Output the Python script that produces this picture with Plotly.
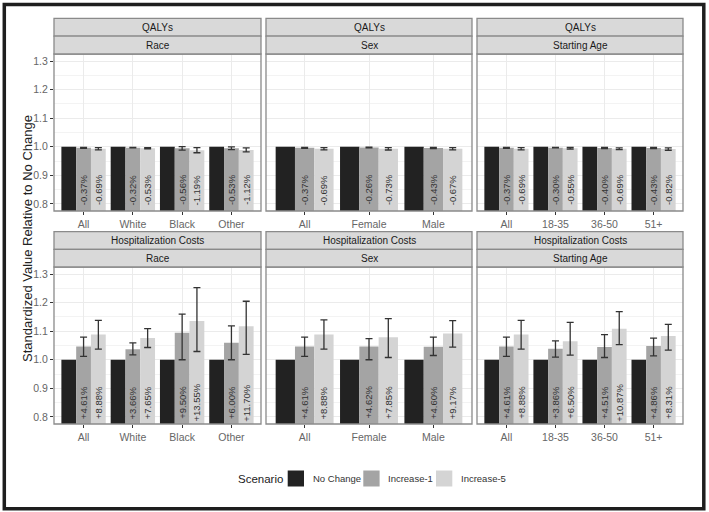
import plotly.graph_objects as go

# ---------------- data ----------------
race_cats = ["All", "White", "Black", "Other"]
sex_cats = ["All", "Female", "Male"]
age_cats = ["All", "18-35", "36-50", "51+"]

scenarios = ["No Change", "Increase-1", "Increase-5"]

# QALYs: percent change vs No Change
qaly_race_inc1 = [-0.37, -0.32, -0.56, -0.53]
qaly_race_inc5 = [-0.69, -0.53, -1.19, -1.12]
qaly_sex_inc1 = [-0.37, -0.26, -0.43]
qaly_sex_inc5 = [-0.69, -0.73, -0.67]
qaly_age_inc1 = [-0.37, -0.30, -0.40, -0.43]
qaly_age_inc5 = [-0.69, -0.55, -0.69, -0.82]

# QALYs error bounds (standardized)
qaly_race_inc1_lo = [0.9948, 0.9958, 0.9885, 0.9897]
qaly_race_inc1_hi = [0.9978, 0.9978, 1.0003, 0.9997]
qaly_race_inc5_lo = [0.9891, 0.9927, 0.9791, 0.9818]
qaly_race_inc5_hi = [0.9971, 0.9967, 0.9971, 0.9958]
qaly_sex_inc1_lo = [0.9948, 0.9964, 0.9937]
qaly_sex_inc1_hi = [0.9978, 0.9984, 0.9977]
qaly_sex_inc5_lo = [0.9891, 0.9887, 0.9893]
qaly_sex_inc5_hi = [0.9971, 0.9967, 0.9973]
qaly_age_inc1_lo = [0.9948, 0.9960, 0.9940, 0.9937]
qaly_age_inc1_hi = [0.9978, 0.9980, 0.9980, 0.9977]
qaly_age_inc5_lo = [0.9891, 0.9915, 0.9901, 0.9878]
qaly_age_inc5_hi = [0.9971, 0.9975, 0.9961, 0.9958]

# Hospitalization costs: percent change vs No Change
cost_race_inc1 = [4.61, 3.66, 9.50, 6.00]
cost_race_inc5 = [8.88, 7.65, 13.55, 11.70]
cost_sex_inc1 = [4.61, 4.62, 4.60]
cost_sex_inc5 = [8.88, 7.85, 9.17]
cost_age_inc1 = [4.61, 3.86, 4.51, 4.86]
cost_age_inc5 = [8.88, 6.50, 10.87, 8.31]

cost_race_inc1_lo = [1.012, 1.017, 1.000, 1.000]
cost_race_inc1_hi = [1.079, 1.059, 1.160, 1.119]
cost_race_inc5_lo = [1.037, 1.043, 1.029, 1.019]
cost_race_inc5_hi = [1.138, 1.109, 1.253, 1.205]
cost_sex_inc1_lo = [1.012, 1.000, 1.015]
cost_sex_inc1_hi = [1.079, 1.074, 1.079]
cost_sex_inc5_lo = [1.037, 1.008, 1.044]
cost_sex_inc5_hi = [1.140, 1.144, 1.137]
cost_age_inc1_lo = [1.012, 1.009, 1.008, 1.014]
cost_age_inc1_hi = [1.079, 1.066, 1.088, 1.076]
cost_age_inc5_lo = [1.037, 1.016, 1.053, 1.034]
cost_age_inc5_hi = [1.138, 1.131, 1.169, 1.124]

y_ticks = [0.8, 0.9, 1.0, 1.1, 1.2, 1.3]
y_minor = [0.85, 0.95, 1.05, 1.15, 1.25]

# ---------------- layout geometry (px) ----------------
W, H = 709, 512
col_x = [(54, 261), (266, 472), (477, 683)]
row_plot_y = [(54, 211), (267, 424)]
row_strip_y = [((18.3, 36.1), (36.1, 54)), ((231.7, 249.3), (249.3, 267))]

colors = {"No Change": "#222222", "Increase-1": "#a4a4a4", "Increase-5": "#d4d4d4"}
grid_c = "#ebebeb"
border_c = "#8a8a8a"
strip_fill = "#d9d9d9"
font_fam = "Liberation Sans, Arial, sans-serif"


def px_x(v):
    return v / W


def px_y(v):
    return 1 - v / H


panels = [
    (0, 0, "QALYs", "Race", race_cats, qaly_race_inc1, qaly_race_inc5,
     qaly_race_inc1_lo, qaly_race_inc1_hi, qaly_race_inc5_lo, qaly_race_inc5_hi),
    (0, 1, "QALYs", "Sex", sex_cats, qaly_sex_inc1, qaly_sex_inc5,
     qaly_sex_inc1_lo, qaly_sex_inc1_hi, qaly_sex_inc5_lo, qaly_sex_inc5_hi),
    (0, 2, "QALYs", "Starting Age", age_cats, qaly_age_inc1, qaly_age_inc5,
     qaly_age_inc1_lo, qaly_age_inc1_hi, qaly_age_inc5_lo, qaly_age_inc5_hi),
    (1, 0, "Hospitalization Costs", "Race", race_cats, cost_race_inc1, cost_race_inc5,
     cost_race_inc1_lo, cost_race_inc1_hi, cost_race_inc5_lo, cost_race_inc5_hi),
    (1, 1, "Hospitalization Costs", "Sex", sex_cats, cost_sex_inc1, cost_sex_inc5,
     cost_sex_inc1_lo, cost_sex_inc1_hi, cost_sex_inc5_lo, cost_sex_inc5_hi),
    (1, 2, "Hospitalization Costs", "Starting Age", age_cats, cost_age_inc1, cost_age_inc5,
     cost_age_inc1_lo, cost_age_inc1_hi, cost_age_inc5_lo, cost_age_inc5_hi),
]

fig = go.Figure()
shapes = []
annotations = []
layout_axes = {}

for k, (r, c, outcome, facet, cats, p1, p5, l1, h1, l5, h5) in enumerate(panels):
    idx = k + 1
    xa = "x" if idx == 1 else f"x{idx}"
    ya = "y" if idx == 1 else f"y{idx}"
    xs = list(range(len(cats)))
    v0 = [1.0] * len(cats)
    v1 = [1 + p / 100 for p in p1]
    v5 = [1 + p / 100 for p in p5]
    series = [
        ("No Change", v0, None, None),
        ("Increase-1", v1, l1, h1),
        ("Increase-5", v5, l5, h5),
    ]
    for name, vals, lo, hi in series:
        err = None
        if lo is not None:
            err = dict(type="data", symmetric=False,
                       array=[h - v for h, v in zip(hi, vals)],
                       arrayminus=[v - l for v, l in zip(vals, lo)],
                       color="#333333", thickness=1.3, width=3.5)
        fig.add_trace(go.Bar(
            x=xs, y=vals, name=name, marker=dict(color=colors[name], line=dict(width=0)),
            error_y=err, xaxis=xa, yaxis=ya, legendgroup=name,
            showlegend=False, hoverinfo="skip",
        ))
    for i in xs:
        for off, pct in ((0.0, p1[i]), (0.3, p5[i])):
            txt = (f"+{pct:.2f}%" if pct > 0 else f"{pct:.2f}%")
            annotations.append(dict(
                x=i + off, y=0.85, xref=xa, yref=ya, text=txt, showarrow=False,
                textangle=-90, font=dict(size=9.5, color="#333333", family=font_fam),
                xanchor="center", yanchor="middle",
            ))
    x0, x1 = col_x[c]
    y0, y1 = row_plot_y[r]
    layout_axes["xaxis" if idx == 1 else f"xaxis{idx}"] = dict(
        domain=[px_x(x0), px_x(x1)], anchor=ya, range=[-0.6, len(cats) - 0.4],
        tickmode="array", tickvals=xs, ticktext=cats, showgrid=True, gridcolor=grid_c,
        gridwidth=1.2, zeroline=False, ticks="outside", ticklen=3, tickcolor="#333333",
        tickwidth=1, showline=False,
        tickfont=dict(size=10.5, color="#666666", family=font_fam), fixedrange=True,
    )
    layout_axes["yaxis" if idx == 1 else f"yaxis{idx}"] = dict(
        domain=[px_y(y1), px_y(y0)], anchor=xa, range=[0.775, 1.325],
        tickmode="array", tickvals=y_ticks, ticktext=[f"{t:.1f}" for t in y_ticks],
        showticklabels=(c == 0), ticks="outside" if c == 0 else "", ticklen=3,
        tickcolor="#333333", showgrid=True, gridcolor=grid_c, gridwidth=1.2,
        zeroline=False, showline=False,
        minor=dict(tickvals=y_minor, showgrid=True, gridcolor="#f3f3f3", gridwidth=0.6),
        tickfont=dict(size=10.5, color="#666666", family=font_fam), fixedrange=True,
    )
    shapes.append(dict(type="rect", xref=f"{xa} domain", yref=f"{ya} domain",
                       x0=0, x1=1, y0=0, y1=1, line=dict(color=border_c, width=1.3),
                       fillcolor="rgba(0,0,0,0)", layer="above"))
    for (sy0, sy1), label in zip(row_strip_y[r], (outcome, facet)):
        shapes.append(dict(type="rect", xref="paper", yref="paper",
                           x0=px_x(x0), x1=px_x(x1), y0=px_y(sy1), y1=px_y(sy0),
                           line=dict(color=border_c, width=1.3), fillcolor=strip_fill,
                           layer="above"))
        annotations.append(dict(x=px_x((x0 + x1) / 2), y=px_y((sy0 + sy1) / 2),
                                xref="paper", yref="paper", text=label, showarrow=False,
                                font=dict(size=10, color="#1a1a1a", family=font_fam),
                                xanchor="center", yanchor="middle"))

# y axis title
annotations.append(dict(x=px_x(27), y=px_y(239), xref="paper", yref="paper",
                        text="Standardized Value Relative to No Change", showarrow=False,
                        textangle=-90, font=dict(size=13, color="#222222", family=font_fam),
                        xanchor="center", yanchor="middle"))

# legend (drawn as keys + labels)
legend_title_x = 236
legend_keys_x = [287.7, 363.3, 436.0]
legend_cy = 478.5
annotations.append(dict(x=px_x(legend_title_x), y=px_y(legend_cy), xref="paper", yref="paper",
                        text="Scenario", showarrow=False, xanchor="left", yanchor="middle",
                        font=dict(size=11.5, color="#222222", family=font_fam)))
for name, kx in zip(scenarios, legend_keys_x):
    shapes.append(dict(type="rect", xref="paper", yref="paper",
                       x0=px_x(kx), x1=px_x(kx + 16.3), y0=px_y(legend_cy + 8),
                       y1=px_y(legend_cy - 8), line=dict(width=0), fillcolor=colors[name]))
    annotations.append(dict(x=px_x(kx + 23), y=px_y(legend_cy), xref="paper", yref="paper",
                            text=name, showarrow=False, xanchor="left", yanchor="middle",
                            font=dict(size=9.5, color="#333333", family=font_fam)))

# outer frame
shapes.append(dict(type="rect", xref="paper", yref="paper",
                   x0=px_x(4.3), x1=px_x(703.8), y0=px_y(508.7), y1=px_y(4.5),
                   line=dict(color="#1e1e1e", width=3.5), fillcolor="rgba(0,0,0,0)",
                   layer="above"))

fig.update_layout(
    width=W, height=H, margin=dict(l=0, r=0, t=0, b=0),
    paper_bgcolor="white", plot_bgcolor="white",
    barmode="group", bargap=0.1, bargroupgap=0.0,
    shapes=shapes, annotations=annotations,
    font=dict(family=font_fam), showlegend=False,
    **layout_axes,
)

fig.write_html("out.html", config={"displayModeBar": False},
               post_script="document.body.style.margin='0';")
